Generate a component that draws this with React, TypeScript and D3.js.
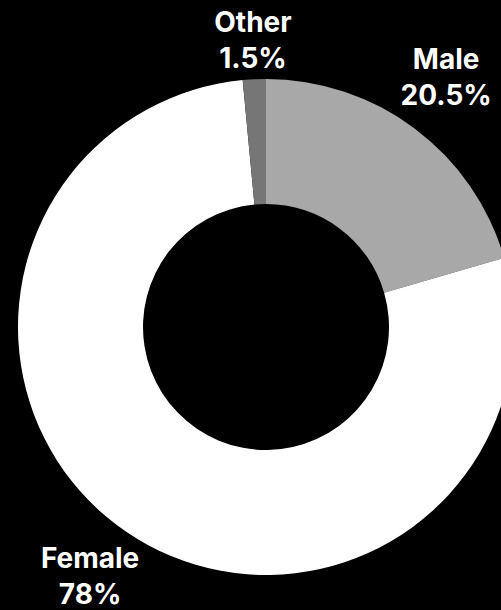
import React, { useEffect } from "react";
import * as d3 from "d3";

const categories = ["Male", "Female", "Other"];
const values = [20.5, 78, 1.5];
const valueLabels = ["20.5%", "78%", "1.5%"];
const colors = ["#a8a8a8", "#ffffff", "#767676"];

const W = 501;
const H = 610;
const CX = 266;
const CY = 327;
const OUTER = 248;
const INNER = 123;
const LABEL_R = [300, 313, 277];

export default function App() {
  useEffect(() => {
    document.body.style.margin = "0";
    document.body.style.background = "#000";
  }, []);

  const pie = d3.pie<number>().value((d) => d).sort(null);
  const arcs = pie(values);
  const arcGen = d3.arc<d3.PieArcDatum<number>>().innerRadius(INNER).outerRadius(OUTER);

  return (
    <svg width={W} height={H} style={{ display: "block", background: "#000" }}>
      <rect x={0} y={0} width={W} height={H} fill="#000" />
      <g transform={`translate(${CX},${CY})`}>
        {arcs.map((a, i) => (
          <path key={categories[i]} d={arcGen(a) || ""} fill={colors[i]} />
        ))}
        {arcs.map((a, i) => {
          const mid = (a.startAngle + a.endAngle) / 2;
          const r = LABEL_R[i];
          const x = Math.sin(mid) * r;
          const y = -Math.cos(mid) * r;
          return (
            <text
              key={"l" + categories[i]}
              x={x}
              y={y}
              textAnchor="middle"
              fill="#fff"
              fontFamily="Inter, 'Noto Sans', sans-serif"
              fontWeight={700}
              fontSize={28}
            >
              <tspan x={x} dy="-0.64em">{categories[i]}</tspan>
              <tspan x={x} dy="1.27em">{valueLabels[i]}</tspan>
            </text>
          );
        })}
      </g>
    </svg>
  );
}
